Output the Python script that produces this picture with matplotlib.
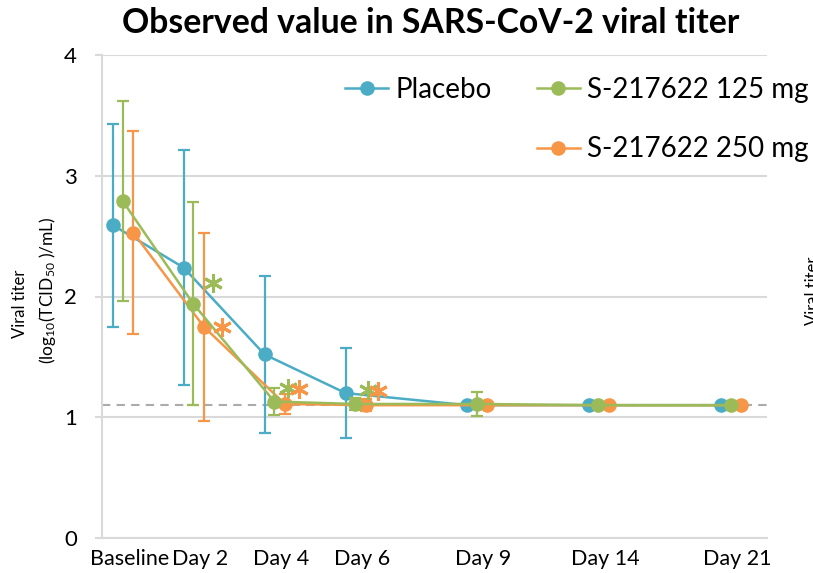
import matplotlib
matplotlib.use('Agg')
import matplotlib.pyplot as plt
import numpy as np
from matplotlib.transforms import Bbox, TransformedBbox, offset_copy
from matplotlib.lines import Line2D

plt.rcParams['font.family'] = ['Lato', 'DejaVu Sans']
plt.rcParams['mathtext.fontset'] = 'custom'
plt.rcParams['mathtext.rm'] = 'Lato'
plt.rcParams['mathtext.it'] = 'Lato:italic'

# x positions of the visits (axis units), tick labels
visits = ['Baseline', 'Day 2', 'Day 4', 'Day 6', 'Day 9', 'Day 14', 'Day 21']
visit_x = np.array([0, 0.87, 1.87, 2.87, 4.37, 5.87, 7.5])

placebo_mean = [2.59, 2.24, 1.52, 1.20, 1.10, 1.10, 1.10]
placebo_sd = [0.84, 0.97, 0.65, 0.37, 0.0, 0.0, 0.0]
dose125_mean = [2.79, 1.94, 1.13, 1.11, 1.11, 1.10, 1.10]
dose125_sd = [0.83, 0.84, 0.11, 0.05, 0.10, 0.0, 0.0]
dose250_mean = [2.53, 1.75, 1.11, 1.10, 1.10, 1.10, 1.10]
dose250_sd = [0.84, 0.78, 0.08, 0.05, 0.0, 0.0, 0.0]

lloq = 1.1  # dashed reference line

# significance marks: visit index and offset from the point (points)
sig125 = [(1, (14, 15)), (2, (10, 10)), (3, (9, 10))]
sig250 = [(1, (13, 0)), (2, (10, 11)), (3, (9, 10))]

c_pl = '#4BACC6'
c_125 = '#9BBB59'
c_250 = '#F79646'
grid_c = '#D9D9D9'

fig = plt.figure(figsize=(8.13, 5.73), dpi=100)
ax = fig.add_axes([102 / 813, 1 - 538 / 573, (767 - 102) / 813, (538 - 55) / 573])

series = [
    ('Placebo', visit_x, placebo_mean, placebo_sd, c_pl, 3),
    ('S-217622 250 mg', visit_x + 0.25, dose250_mean, dose250_sd, c_250, 4),
    ('S-217622 125 mg', visit_x + 0.12, dose125_mean, dose125_sd, c_125, 5),
]
handles = {}
for name, xs, ys, sd, col, z in series:
    ax.errorbar(xs, ys, yerr=sd, fmt='none', ecolor=col, elinewidth=1.6,
                capsize=4.3, capthick=1.6, zorder=z)
    ln, = ax.plot(xs, ys, color=col, lw=1.8, marker='o', ms=10.5,
                  markeredgewidth=0, zorder=z + 0.5, label=name)
    handles[name] = ln

for marks, xshift, ys, col in [(sig125, 0.12, dose125_mean, c_125),
                               (sig250, 0.25, dose250_mean, c_250)]:
    for idx, (dx, dy) in marks:
        tr = offset_copy(ax.transData, fig=fig, x=dx, y=dy, units='points')
        ax.plot([visit_x[idx] + xshift], [ys[idx]], transform=tr,
                marker=(6, 2, 0), ms=13.5, mew=2.2, color=col, ls='none', zorder=6)

ax.axhline(lloq, color='#ABABAB', lw=1.5, ls=(0, (4, 3)), zorder=2)

ax.set_xlim(-0.136, 8.07)
ax.set_ylim(0, 4)
ax.set_yticks([0, 1, 2, 3, 4])
ax.set_xticks(visit_x + 0.2)
ax.set_xticklabels(visits)
ax.tick_params(axis='y', length=5, width=1.5, color=grid_c, labelsize=16, pad=13)
ax.tick_params(axis='x', length=0, labelsize=15.5, pad=8)
ax.grid(axis='y', color=grid_c, lw=1.5, zorder=0)
ax.set_axisbelow(True)
for s in ['top', 'right']:
    ax.spines[s].set_visible(False)
for s in ['left', 'bottom']:
    ax.spines[s].set_color(grid_c)
    ax.spines[s].set_linewidth(1.5)

# clip the last tick label like the source crop
clip = TransformedBbox(Bbox([[0, 0], [770 / 813, 1]]), fig.transFigure)
for lbl in ax.get_xticklabels():
    lbl.set_clip_box(clip)
    lbl.set_clip_on(True)

blank = Line2D([], [], alpha=0)
ax.legend([handles['Placebo'], blank, handles['S-217622 125 mg'], handles['S-217622 250 mg']],
          ['Placebo', '', 'S-217622 125 mg', 'S-217622 250 mg'],
          ncol=2, frameon=False, fontsize=20, loc='upper left',
          bbox_to_anchor=(345 / 813, 1 - 77 / 573), bbox_transform=fig.transFigure,
          borderpad=0, borderaxespad=0, handlelength=1.55, handletextpad=0.28,
          columnspacing=1.6, labelspacing=1.2, numpoints=1)

fig.text(0.53, 1 - 23 / 573, 'Observed value in SARS-CoV-2 viral titer',
         ha='center', va='center', fontsize=24.3, fontweight='bold')
fig.text(20 / 813, 1 - 304 / 573, 'Viral titer', rotation=90,
         ha='center', va='center', fontsize=12)
fig.text(47 / 813, 1 - 290 / 573, '(log$_{10}$(TCID$_{50}$ )/mL)', rotation=90,
         ha='center', va='center', fontsize=12.5)
# edge of the neighbouring panel
fig.text(805 / 813, 1 - 291 / 573, 'Viral titer', rotation=90,
         ha='left', va='center', fontsize=12)

fig.savefig('out.png', dpi=100)
